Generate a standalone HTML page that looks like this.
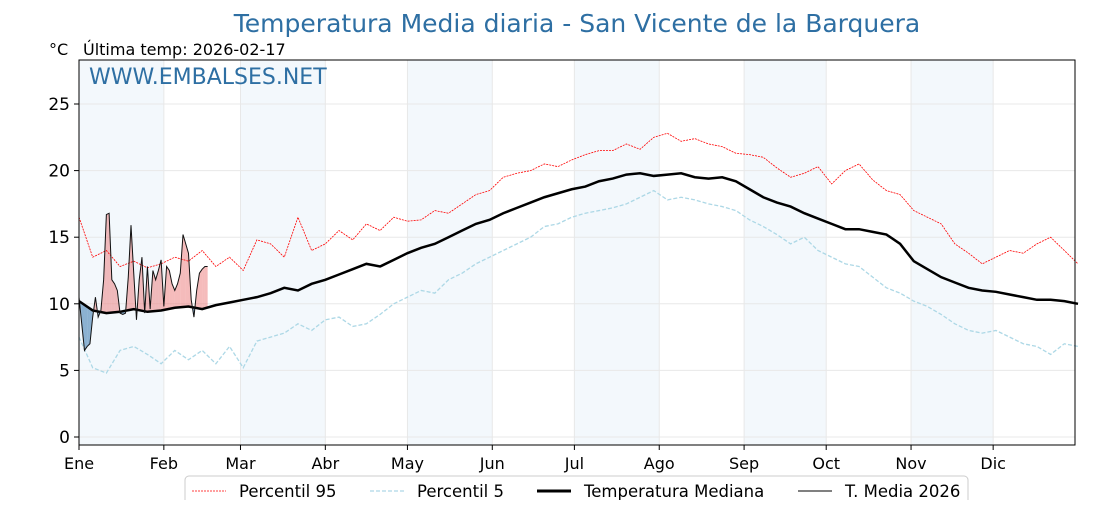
<!DOCTYPE html>
<html><head><meta charset="utf-8"><style>
body{margin:0;background:#fff;font-family:"Liberation Sans","DejaVu Sans",sans-serif}
svg text{font-family:"DejaVu Sans","Liberation Sans",sans-serif}
</style></head><body>
<svg id="chart" width="1120" height="500" xmlns="http://www.w3.org/2000/svg">
<text x="577" y="32" text-anchor="middle" font-size="25" fill="#2e6fa3">Temperatura Media diaria - San Vicente de la Barquera</text>
<text x="49" y="55" font-size="16">°C</text>
<text x="83" y="55" font-size="16">Última temp: 2026-02-17</text>
<g id="bands"></g><g id="grid"></g><g id="fills"></g><g id="lines"></g>
<rect x="79" y="60" width="996" height="385" fill="none" stroke="#000" stroke-width="1"/>
<text x="89" y="84" font-size="22" fill="#2e6fa3">WWW.EMBALSES.NET</text>
<g id="axes"></g>
<g>
<rect x="185" y="476" width="783" height="30" rx="4" fill="#fff" stroke="#ccc"/>
<line x1="192" y1="491" x2="226" y2="491" stroke="red" stroke-width="0.8" stroke-dasharray="2,1"/>
<text x="239" y="497" font-size="16.5">Percentil 95</text>
<line x1="370" y1="491" x2="404" y2="491" stroke="#add8e6" stroke-width="1.2" stroke-dasharray="4,2"/>
<text x="417" y="497" font-size="16.5">Percentil 5</text>
<line x1="537" y1="491" x2="571" y2="491" stroke="#000" stroke-width="3"/>
<text x="584" y="497" font-size="16.5">Temperatura Mediana</text>
<line x1="798" y1="491" x2="832" y2="491" stroke="#000" stroke-width="1"/>
<text x="845" y="497" font-size="16.5">T. Media 2026</text>
</g>
</svg>
<script>
const monthLabels=["Ene","Feb","Mar","Abr","May","Jun","Jul","Ago","Sep","Oct","Nov","Dic"];
const monthStarts=[0,31,59,90,120,151,181,212,243,273,304,334];
const yTicks=[0,5,10,15,20,25];
const median=[10.2,9.5,9.3,9.4,9.6,9.4,9.5,9.7,9.8,9.6,9.9,10.1,10.3,10.5,10.8,11.2,11.0,11.5,11.8,12.2,12.6,13.0,12.8,13.3,13.8,14.2,14.5,15.0,15.5,16.0,16.3,16.8,17.2,17.6,18.0,18.3,18.6,18.8,19.2,19.4,19.7,19.8,19.6,19.7,19.8,19.5,19.4,19.5,19.2,18.6,18.0,17.6,17.3,16.8,16.4,16.0,15.6,15.6,15.4,15.2,14.5,13.2,12.6,12.0,11.6,11.2,11.0,10.9,10.7,10.5,10.3,10.3,10.2,10.0];
const p95=[16.5,13.5,14,12.8,13.2,12.7,13,13.5,13.2,14,12.8,13.5,12.5,14.8,14.5,13.5,16.5,14,14.5,15.5,14.8,16,15.5,16.5,16.2,16.3,17,16.8,17.5,18.2,18.5,19.5,19.8,20,20.5,20.3,20.8,21.2,21.5,21.5,22,21.6,22.5,22.8,22.2,22.4,22,21.8,21.3,21.2,21,20.2,19.5,19.8,20.3,19,20,20.5,19.3,18.5,18.2,17,16.5,16,14.5,13.8,13,13.5,14,13.8,14.5,15,14,13];
const p5=[7.5,5.2,4.8,6.5,6.8,6.2,5.5,6.5,5.8,6.5,5.5,6.8,5.2,7.2,7.5,7.8,8.5,8,8.8,9,8.3,8.5,9.2,10,10.5,11,10.8,11.8,12.3,13,13.5,14,14.5,15,15.8,16,16.5,16.8,17,17.2,17.5,18,18.5,17.8,18,17.8,17.5,17.3,17,16.3,15.8,15.2,14.5,15,14,13.5,13,12.8,12,11.2,10.8,10.2,9.8,9.2,8.5,8,7.8,8,7.5,7,6.8,6.2,7,6.8];
const t2026=[10.5,8.5,6.5,6.8,7.0,9.0,10.5,9.0,9.5,11.8,16.7,16.8,11.8,11.5,11.0,9.3,9.2,9.3,12,15.9,12.3,8.8,11.8,13.5,9.3,12.8,9.6,12.5,11.8,12.5,13.3,9.8,12.8,12.5,11.5,11,11.5,12.3,15.2,14.5,13.8,10.3,9.0,11,12.3,12.6,12.8,12.8];
const STEP=5;
const x=d=>79+d*2.737;
const y=v=>437-v*13.32;
const NS="http://www.w3.org/2000/svg";
function mk(tag,parent,attrs){const e=document.createElementNS(NS,tag);for(const k in attrs)e.setAttribute(k,attrs[k]);document.getElementById(parent).appendChild(e);return e;}
monthStarts.forEach((m,i)=>{if(i%2===0){const end=i+1<monthStarts.length?monthStarts[i+1]:365;
const r=mk('rect','bands',{x:x(m),y:60,width:x(end)-x(m),height:385,fill:'#f3f8fc'});

}});
yTicks.forEach(t=>{const l=mk('line','grid',{x1:79,x2:1075,y1:y(t),y2:y(t),stroke:'#e8e8e8','stroke-width':1});

});
monthStarts.forEach(m=>{const l=mk('line','grid',{x1:x(m),x2:x(m),y1:60,y2:445,stroke:'#e8e8e8','stroke-width':1});

});
yTicks.forEach(t=>{mk('line','axes',{x1:74,x2:79,y1:y(t),y2:y(t),stroke:'#000'});
const tx=mk('text','axes',{x:70,y:y(t)+6,'text-anchor':'end','font-size':17});tx.textContent=t;

});
monthStarts.forEach((m,i)=>{mk('line','axes',{x1:x(m),x2:x(m),y1:445,y2:450,stroke:'#000'});
const tx=mk('text','axes',{x:x(m),y:469,'text-anchor':'middle','font-size':16});tx.textContent=monthLabels[i];

});
function medAt(d){const i=Math.min(Math.floor(d/STEP),median.length-2);const f=(d-i*STEP)/STEP;return median[i]+(median[i+1]-median[i])*f;}
for(let d=0;d<t2026.length-1;d++){
 const a=t2026[d],b=t2026[d+1],ma=medAt(d),mb=medAt(d+1);
 const da=a-ma,db=b-mb;
 const seg=(d0,v0,m0,d1,v1,m1,col)=>{const p=mk('polygon','fills',{points:`${x(d0)},${y(v0)} ${x(d1)},${y(v1)} ${x(d1)},${y(m1)} ${x(d0)},${y(m0)}`,fill:col});
 
 };
 const col=s=>s>=0?'rgba(236,120,120,0.5)':'rgba(70,130,180,0.6)';
 if(da*db>=0){seg(d,a,ma,d+1,b,mb,col(da+db));}
 else{const t=da/(da-db);const dc=d+t,vc=ma+(mb-ma)*t;seg(d,a,ma,dc,vc,vc,col(da));seg(dc,vc,vc,d+1,b,mb,col(db));}
}
function line(arr,step,attrs,name){const pts=arr.map((v,i)=>`${x(i*step)},${y(v)}`).join(' ');
const p=mk('polyline','lines',Object.assign({points:pts,fill:'none'},attrs));

}
line(p95,STEP,{stroke:'red','stroke-width':0.8,'stroke-dasharray':'2,1'},'percentile-95-line');
line(p5,STEP,{stroke:'#add8e6','stroke-width':1.3,'stroke-dasharray':'4,2'},'percentile-5-line');
line(median,STEP,{stroke:'#000','stroke-width':2.5},'median-line');
line(t2026,1,{stroke:'#111','stroke-width':1},'t2026-line');
</script>
</body></html>
